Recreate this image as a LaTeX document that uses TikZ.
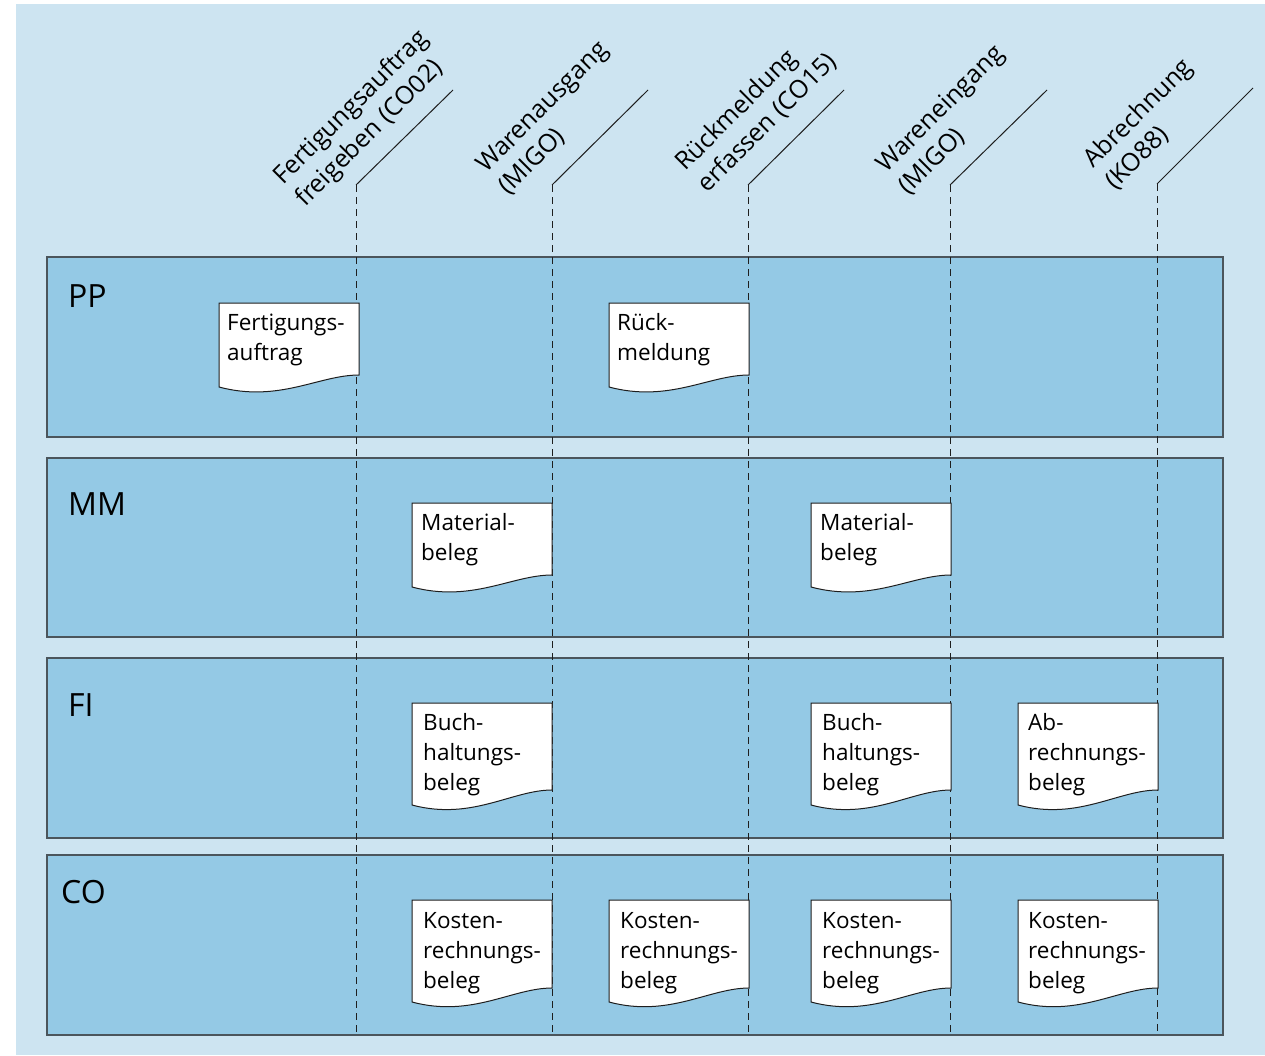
\documentclass[tikz,border=0pt]{standalone}
\usepackage{fontspec}
\setmainfont{Open Sans}
\definecolor{bgblue}{RGB}{205,228,241}
\definecolor{laneblue}{RGB}{148,201,229}
\definecolor{laneedge}{RGB}{75,85,92}
\definecolor{inkc}{RGB}{30,30,30}
\tikzset{
  lane/.style={fill=laneblue, draw=laneedge, line width=1.4pt},
  lanelabel/.style={anchor=base west, inner sep=0pt, text=black, font=\fontsize{32}{38}\selectfont},
  docshape/.style={fill=white, draw=inkc, line width=1pt},
  doctext/.style={anchor=base west, inner sep=0pt, align=left, text=black, font=\fontsize{22.5}{30}\selectfont},
  header/.style={anchor=base west, inner sep=0pt, align=left, rotate=45, text=black, font=\fontsize{25}{31}\selectfont},
  guide/.style={draw=inkc, line width=1pt, dash pattern=on 7pt off 5pt},
  diag/.style={draw=inkc, line width=1pt},
}
% #1 x0, #2 top, #3 left bottom, #4 right bottom
\newcommand\mydoc[4]{%
  \pgfmathsetmacro\xa{#1}%
  \pgfmathsetmacro\xb{#1+140}%
  \pgfmathsetmacro\ya{#2}%
  \pgfmathsetmacro\yl{#3}%
  \pgfmathsetmacro\yr{#4}%
  \pgfmathsetmacro\cxa{#1+60}%
  \pgfmathsetmacro\cxb{#1+100}%
  \pgfmathsetmacro\cyl{#3+16}%
  \path[docshape] (\xa,\ya) -- (\xb,\ya) -- (\xb,\yr)
     .. controls (\cxb,\yr) and (\cxa,\cyl) .. (\xa,\yl) -- cycle;%
}
\begin{document}
\begin{tikzpicture}[x=1pt,y=-1pt]
\useasboundingbox (0,0) rectangle (1265,1055);
\fill[bgblue] (16,4) rectangle (1265,1055);

% lanes
\path[lane] (47,257) rectangle (1223,437);
\path[lane] (47,458) rectangle (1223,637);
\path[lane] (47,658) rectangle (1223,838);
\path[lane] (47,855) rectangle (1223,1035);
\node[lanelabel] (lpp) at (68,307) {PP};
\node[lanelabel] (lmm) at (68,515) {MM};
\node[lanelabel] (lfi) at (68,716) {FI};
\node[lanelabel] (lco) at (61,903) {CO};

% column guides
\coordinate (d1) at (453,90);   \coordinate (t1) at (356,185); \coordinate (b1) at (356,1035);
\coordinate (d2) at (648,90);   \coordinate (t2) at (552,185); \coordinate (b2) at (552,1035);
\coordinate (d3) at (844,90);   \coordinate (t3) at (748,185); \coordinate (b3) at (748,1035);
\coordinate (d4) at (1047,90);  \coordinate (t4) at (950,185); \coordinate (b4) at (950,1035);
\coordinate (d5) at (1253,88);  \coordinate (t5) at (1157,184); \coordinate (b5) at (1157,1035);
\foreach \i in {1,...,5} {
  \draw[diag] (d\i) -- (t\i);
  \draw[guide] (t\i) -- (b\i);
}

% headers (anchor = start of last line's baseline)
\node[header] (h1) at (305,208) {Fertigungsauftrag\\freigeben (CO02)};
\node[header] (h2) at (508,196) {Warenausgang\\(MIGO)};
\node[header] (h3) at (707,194) {Rückmeldung\\erfassen (CO15)};
\node[header] (h4) at (908,196) {Wareneingang\\(MIGO)};
\node[header] (h5) at (1115,191) {Abrechnung\\(KO88)};

% documents (anchor = start of last line's baseline)
\mydoc{219}{303}{387}{375}
\node[doctext] (pp1) at (227,360) {Fertigungs-\\auftrag};
\mydoc{609}{303}{387}{375}
\node[doctext] (pp2) at (617,360) {Rück-\\meldung};

\mydoc{412}{503}{587}{575}
\node[doctext] (mm1) at (421,560) {Material-\\beleg};
\mydoc{811}{503}{587}{575}
\node[doctext] (mm2) at (820,560) {Material-\\beleg};

\mydoc{412}{703}{805}{790}
\node[doctext] (fi1) at (423,790) {Buch-\\haltungs-\\beleg};
\mydoc{811}{703}{805}{790}
\node[doctext] (fi2) at (822,790) {Buch-\\haltungs-\\beleg};
\mydoc{1018}{703}{805}{790}
\node[doctext] (fi3) at (1028,790) {Ab-\\rechnungs-\\beleg};

\mydoc{412}{900}{1002}{988}
\node[doctext] (co1) at (423,988) {Kosten-\\rechnungs-\\beleg};
\mydoc{609}{900}{1002}{988}
\node[doctext] (co2) at (620,988) {Kosten-\\rechnungs-\\beleg};
\mydoc{811}{900}{1002}{988}
\node[doctext] (co3) at (822,988) {Kosten-\\rechnungs-\\beleg};
\mydoc{1018}{900}{1002}{988}
\node[doctext] (co4) at (1028,988) {Kosten-\\rechnungs-\\beleg};
\end{tikzpicture}
\end{document}
